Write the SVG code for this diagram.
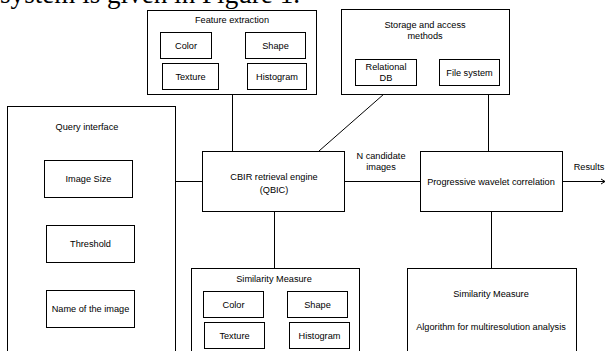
<svg xmlns="http://www.w3.org/2000/svg" width="606" height="351" viewBox="0 0 606 351">
<defs>
<style>
.b{fill:#fff;stroke:#000;stroke-width:1}
.c{fill:none;stroke:#000;stroke-width:1}
text{font-family:"Liberation Sans",Arial,sans-serif;font-size:9.2px;fill:#000;text-anchor:middle}
.cap{font-family:"Liberation Serif","Times New Roman",serif;font-size:27px;text-anchor:start}
</style>
<marker id="ah" markerWidth="8" markerHeight="8" refX="6" refY="4" orient="auto" markerUnits="userSpaceOnUse">
<polyline points="2,1.5 6,4 2,6.5" fill="none" stroke="#000" stroke-width="1"/>
</marker>
</defs>
<rect width="606" height="351" fill="#fff"/>
<text class="cap" x="0" y="3" textLength="300" lengthAdjust="spacingAndGlyphs">system is given in Figure 1.</text>

<g id="connectors">
<line class="c" x1="232.5" y1="94" x2="232.5" y2="151"/>
<line class="c" x1="384" y1="94" x2="319" y2="151"/>
<line class="c" x1="488.5" y1="94" x2="488.5" y2="151"/>
<line class="c" x1="175" y1="181.5" x2="202" y2="181.5"/>
<line class="c" x1="345" y1="181.5" x2="420" y2="181.5"/>
<line class="c" x1="562" y1="181.5" x2="605" y2="181.5" marker-end="url(#ah)"/>
<line class="c" x1="274.5" y1="212" x2="274.5" y2="268"/>
<line class="c" x1="491.5" y1="212" x2="491.5" y2="268"/>
<text x="381" y="159">N candidate</text>
<text x="381" y="170">images</text>
<text x="589" y="170">Results</text>
</g>

<g id="feature-extraction">
<rect class="b" x="147.5" y="10.5" width="169" height="84"/>
<text x="232" y="23">Feature extraction</text>
<rect class="b" x="160.5" y="32.5" width="51" height="26"/>
<text x="186" y="49">Color</text>
<rect class="b" x="245.5" y="32.5" width="60" height="26"/>
<text x="275.5" y="49">Shape</text>
<rect class="b" x="162.5" y="63.5" width="56" height="26"/>
<text x="190.5" y="80">Texture</text>
<rect class="b" x="247.5" y="63.5" width="59" height="26"/>
<text x="277" y="80">Histogram</text>
</g>

<g id="storage">
<rect class="b" x="341.5" y="9.5" width="168" height="85"/>
<text x="425" y="28">Storage and access</text>
<text x="425" y="39">methods</text>
<rect class="b" x="355.5" y="59.5" width="61" height="26"/>
<text x="386" y="70">Relational</text>
<text x="386" y="81">DB</text>
<rect class="b" x="439.5" y="59.5" width="60" height="26"/>
<text x="469.5" y="76">File system</text>
</g>

<g id="query-interface">
<rect class="b" x="7.5" y="106.5" width="168" height="260"/>
<text x="87" y="130">Query interface</text>
<rect class="b" x="44.5" y="160.5" width="88" height="37"/>
<text x="88.5" y="182">Image Size</text>
<rect class="b" x="46.5" y="225.5" width="88" height="37"/>
<text x="90.5" y="247">Threshold</text>
<rect class="b" x="46.5" y="290.5" width="88" height="37"/>
<text x="90.5" y="312">Name of the image</text>
</g>

<g id="cbir">
<rect class="b" x="202.5" y="151.5" width="142" height="60"/>
<text x="274" y="180">CBIR retrieval engine</text>
<text x="274" y="193">(QBIC)</text>
</g>

<g id="pwc">
<rect class="b" x="420.5" y="151.5" width="142" height="60"/>
<text x="491" y="184.5">Progressive wavelet correlation</text>
</g>

<g id="similarity-left">
<rect class="b" x="191.5" y="268.5" width="168" height="100"/>
<text x="274" y="282">Similarity Measure</text>
<rect class="b" x="203.5" y="291.5" width="60" height="26"/>
<text x="233.5" y="308">Color</text>
<rect class="b" x="287.5" y="291.5" width="60" height="26"/>
<text x="317.5" y="308">Shape</text>
<rect class="b" x="204.5" y="322.5" width="60" height="26"/>
<text x="234.5" y="339">Texture</text>
<rect class="b" x="289.5" y="322.5" width="60" height="26"/>
<text x="319.5" y="339">Histogram</text>
</g>

<g id="similarity-right">
<rect class="b" x="407.5" y="268.5" width="169" height="100"/>
<text x="491" y="297">Similarity Measure</text>
<text x="491" y="330">Algorithm for multiresolution analysis</text>
</g>
</svg>
